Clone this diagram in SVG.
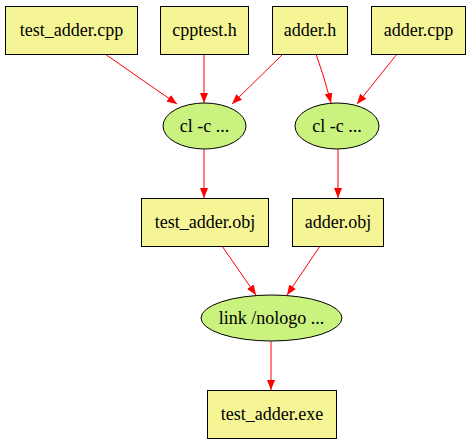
<svg xmlns="http://www.w3.org/2000/svg" width="469" height="443" viewBox="0 0 469 443">
<defs>
<style>
.box{fill:#f5f596;stroke:#000;stroke-width:1}
.ell{fill:#c9f27e;stroke:#000;stroke-width:1}
.e{stroke:#ff0000;stroke-width:1;fill:none;marker-end:url(#ah)}
text{font-family:"Liberation Serif","Times New Roman",serif;font-size:18px;text-anchor:middle;fill:#000}
</style>
<marker id="ah" viewBox="0 0 10 8" refX="10" refY="4" markerWidth="10" markerHeight="8" markerUnits="userSpaceOnUse" orient="auto">
<path d="M0,0 L10,4 L0,8 z" fill="#ff0000"/>
</marker>
</defs>
<rect width="469" height="443" fill="#fff"/>
<g id="connectors">
<path class="e" d="M105,54 L177,104"/>
<path class="e" d="M204,54 L204,103"/>
<path class="e" d="M283,54 L232,104"/>
<path class="e" d="M316,54 Q324,76 331,103"/>
<path class="e" d="M397,54 L357,104"/>
<path class="e" d="M204,149 L204,198"/>
<path class="e" d="M338,149 L338,198"/>
<path class="e" d="M222,246 L256,295"/>
<path class="e" d="M320,246 L287,295"/>
<path class="e" d="M271,341 L271,390"/>
</g>
<g id="test_adder_cpp"><rect class="box" x="5.5" y="6.5" width="132" height="48"/><text x="71.5" y="36">test_adder.cpp</text></g>
<g id="cpptest_h"><rect class="box" x="160.5" y="6.5" width="88" height="48"/><text x="204.5" y="36">cpptest.h</text></g>
<g id="adder_h"><rect class="box" x="272.5" y="6.5" width="75" height="48"/><text x="310" y="36">adder.h</text></g>
<g id="adder_cpp"><rect class="box" x="371.5" y="6.5" width="94" height="48"/><text x="418.5" y="36">adder.cpp</text></g>
<g id="cl1"><ellipse class="ell" cx="204.5" cy="126" rx="41.5" ry="23"/><text x="204.5" y="132">cl -c ...</text></g>
<g id="cl2"><ellipse class="ell" cx="337" cy="126" rx="42" ry="23"/><text x="337" y="132">cl -c ...</text></g>
<g id="test_adder_obj"><rect class="box" x="141.5" y="198.5" width="127" height="48"/><text x="205" y="228">test_adder.obj</text></g>
<g id="adder_obj"><rect class="box" x="292.5" y="198.5" width="91" height="48"/><text x="338" y="228">adder.obj</text></g>
<g id="link"><ellipse class="ell" cx="271.5" cy="318" rx="70.5" ry="23"/><text x="271.5" y="324">link /nologo ...</text></g>
<g id="test_adder_exe"><rect class="box" x="207.5" y="390.5" width="129" height="48"/><text x="272" y="420">test_adder.exe</text></g>
</svg>
